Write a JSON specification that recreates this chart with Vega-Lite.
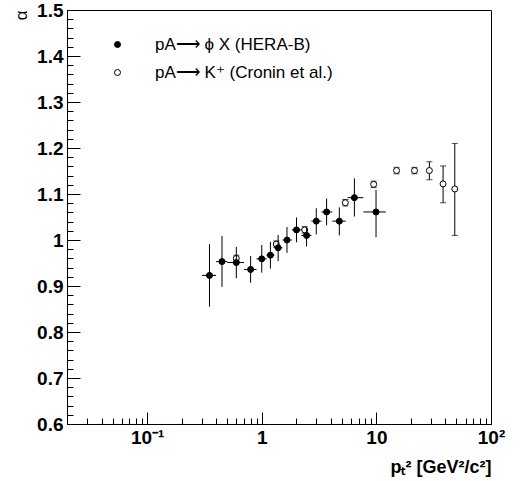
{
  "$schema": "https://vega.github.io/schema/vega-lite/v6.json",
  "autosize": {"type": "none"},
  "padding": {"left": 67, "top": 10, "right": 29, "bottom": 57},
  "width": 424,
  "height": 414,
  "background": "white",
  "config": {
    "font": "Liberation Sans",
    "view": {"stroke": "black", "strokeWidth": 1},
    "axis": {
      "domainColor": "black",
      "tickColor": "black",
      "tickWidth": 1,
      "labelColor": "black",
      "labelFont": "Liberation Sans",
      "labelFontWeight": "bold",
      "labelFontSize": 19,
      "labelOverlap": false,
      "labelFlush": false,
      "grid": false,
      "titleColor": "black",
      "titleFont": "Liberation Sans"
    }
  },
  "data": {
    "values": [
      {"series": "pA⟶ K⁺ (Cronin et al.)", "x": 0.60, "y": 0.960, "ylo": 0.953, "yhi": 0.967},
      {"series": "pA⟶ K⁺ (Cronin et al.)", "x": 1.34, "y": 0.991, "ylo": 0.984, "yhi": 0.998},
      {"series": "pA⟶ K⁺ (Cronin et al.)", "x": 2.37, "y": 1.022, "ylo": 1.015, "yhi": 1.029},
      {"series": "pA⟶ K⁺ (Cronin et al.)", "x": 5.36, "y": 1.081, "ylo": 1.074, "yhi": 1.088},
      {"series": "pA⟶ K⁺ (Cronin et al.)", "x": 9.47, "y": 1.121, "ylo": 1.114, "yhi": 1.128},
      {"series": "pA⟶ K⁺ (Cronin et al.)", "x": 15.0, "y": 1.151, "ylo": 1.144, "yhi": 1.158},
      {"series": "pA⟶ K⁺ (Cronin et al.)", "x": 21.5, "y": 1.151, "ylo": 1.144, "yhi": 1.158},
      {"series": "pA⟶ K⁺ (Cronin et al.)", "x": 29.0, "y": 1.151, "ylo": 1.131, "yhi": 1.170},
      {"series": "pA⟶ K⁺ (Cronin et al.)", "x": 38.2, "y": 1.122, "ylo": 1.081, "yhi": 1.161},
      {"series": "pA⟶ K⁺ (Cronin et al.)", "x": 48.3, "y": 1.111, "ylo": 1.010, "yhi": 1.210},
      {"series": "pA⟶ ϕ X (HERA-B)", "x": 0.35, "y": 0.923, "ylo": 0.855, "yhi": 0.991, "xlo": 0.30, "xhi": 0.40},
      {"series": "pA⟶ ϕ X (HERA-B)", "x": 0.45, "y": 0.953, "ylo": 0.898, "yhi": 1.009, "xlo": 0.40, "xhi": 0.50},
      {"series": "pA⟶ ϕ X (HERA-B)", "x": 0.60, "y": 0.951, "ylo": 0.917, "yhi": 0.985, "xlo": 0.50, "xhi": 0.70},
      {"series": "pA⟶ ϕ X (HERA-B)", "x": 0.80, "y": 0.936, "ylo": 0.907, "yhi": 0.965, "xlo": 0.70, "xhi": 0.90},
      {"series": "pA⟶ ϕ X (HERA-B)", "x": 1.00, "y": 0.959, "ylo": 0.929, "yhi": 0.989, "xlo": 0.90, "xhi": 1.10},
      {"series": "pA⟶ ϕ X (HERA-B)", "x": 1.19, "y": 0.967, "ylo": 0.938, "yhi": 0.996, "xlo": 1.10, "xhi": 1.29},
      {"series": "pA⟶ ϕ X (HERA-B)", "x": 1.39, "y": 0.983, "ylo": 0.954, "yhi": 1.011, "xlo": 1.29, "xhi": 1.52},
      {"series": "pA⟶ ϕ X (HERA-B)", "x": 1.66, "y": 1.000, "ylo": 0.972, "yhi": 1.028, "xlo": 1.52, "xhi": 1.83},
      {"series": "pA⟶ ϕ X (HERA-B)", "x": 2.01, "y": 1.022, "ylo": 0.995, "yhi": 1.049, "xlo": 1.83, "xhi": 2.22},
      {"series": "pA⟶ ϕ X (HERA-B)", "x": 2.46, "y": 1.010, "ylo": 0.986, "yhi": 1.028, "xlo": 2.22, "xhi": 2.71},
      {"series": "pA⟶ ϕ X (HERA-B)", "x": 2.99, "y": 1.041, "ylo": 1.012, "yhi": 1.069, "xlo": 2.71, "xhi": 3.32},
      {"series": "pA⟶ ϕ X (HERA-B)", "x": 3.68, "y": 1.061, "ylo": 1.032, "yhi": 1.090, "xlo": 3.32, "xhi": 4.13},
      {"series": "pA⟶ ϕ X (HERA-B)", "x": 4.75, "y": 1.041, "ylo": 1.010, "yhi": 1.071, "xlo": 4.13, "xhi": 5.40},
      {"series": "pA⟶ ϕ X (HERA-B)", "x": 6.43, "y": 1.092, "ylo": 1.051, "yhi": 1.134, "xlo": 5.60, "xhi": 7.70},
      {"series": "pA⟶ ϕ X (HERA-B)", "x": 9.93, "y": 1.061, "ylo": 1.006, "yhi": 1.109, "xlo": 7.70, "xhi": 12.1}
    ]
  },
  "encoding": {
    "x": {
      "field": "x",
      "type": "quantitative",
      "scale": {"type": "log", "domain": [0.02, 100], "nice": false},
      "axis": {
        "title": "pₜ² [GeV²/c²]",
        "titleFontSize": 18,
        "titleFontWeight": "bold",
        "titleAnchor": "end",
        "titleAlign": "right",
        "titleBaseline": "alphabetic",
        "titleX": 424,
        "titleY": 48,
        "values": [0.02, 0.03, 0.04, 0.05, 0.06, 0.07, 0.08, 0.09, 0.1, 0.2, 0.3, 0.4, 0.5, 0.6, 0.7, 0.8, 0.9, 1, 2, 3, 4, 5, 6, 7, 8, 9, 10, 20, 30, 40, 50, 60, 70, 80, 90, 100],
        "tickSize": {"expr": "abs(log(datum.value)/log(10) - round(log(datum.value)/log(10))) < 0.001 ? -12 : -6"},
        "labelPadding": 16,
        "labelExpr": "abs(datum.value - 0.1) < 1e-6 ? '10⁻¹' : abs(datum.value - 1) < 1e-6 ? '1' : abs(datum.value - 10) < 1e-6 ? '10' : abs(datum.value - 100) < 1e-6 ? '10²' : ''"
      }
    },
    "y": {
      "field": "y",
      "type": "quantitative",
      "scale": {"domain": [0.6, 1.5], "nice": false, "zero": false},
      "axis": {
        "title": "α",
        "titleFontSize": 17,
        "titleFontWeight": "normal",
        "titleAngle": -90,
        "titleAlign": "right",
        "titleBaseline": "bottom",
        "titleX": -37,
        "titleY": 0,
        "values": [0.6, 0.62, 0.64, 0.66, 0.68, 0.7, 0.72, 0.74, 0.76, 0.78, 0.8, 0.82, 0.84, 0.86, 0.88, 0.9, 0.92, 0.94, 0.96, 0.98, 1, 1.02, 1.04, 1.06, 1.08, 1.1, 1.12, 1.14, 1.16, 1.18, 1.2, 1.22, 1.24, 1.26, 1.28, 1.3, 1.32, 1.34, 1.36, 1.38, 1.4, 1.42, 1.44, 1.46, 1.48, 1.5],
        "tickSize": {"expr": "abs(datum.value*10 - round(datum.value*10)) < 0.001 ? -13 : -6"},
        "labelPadding": 17,
        "labelExpr": "abs(datum.value*10 - round(datum.value*10)) < 0.001 ? (abs(datum.value - 1) < 1e-6 ? '1' : format(datum.value, '.1f')) : ''"
      }
    }
  },
  "layer": [
    {
      "transform": [{"filter": "datum.series == 'pA⟶ K⁺ (Cronin et al.)'"}],
      "mark": {"type": "rule", "color": "black", "strokeWidth": 1},
      "encoding": {"y": {"field": "ylo", "type": "quantitative"}, "y2": {"field": "yhi"}}
    },
    {
      "transform": [{"filter": "datum.series == 'pA⟶ K⁺ (Cronin et al.)'"}],
      "mark": {"type": "tick", "orient": "horizontal", "color": "black", "size": 6, "thickness": 1},
      "encoding": {"y": {"field": "ylo", "type": "quantitative"}}
    },
    {
      "transform": [{"filter": "datum.series == 'pA⟶ K⁺ (Cronin et al.)'"}],
      "mark": {"type": "tick", "orient": "horizontal", "color": "black", "size": 6, "thickness": 1},
      "encoding": {"y": {"field": "yhi", "type": "quantitative"}}
    },
    {
      "transform": [{"filter": "datum.series == 'pA⟶ K⁺ (Cronin et al.)'"}],
      "mark": {"type": "point", "shape": "circle", "filled": true, "stroke": "black", "strokeWidth": 1, "size": 36, "opacity": 1},
      "encoding": {
        "fill": {
          "field": "series",
          "type": "nominal",
          "scale": {"domain": ["pA⟶ ϕ X (HERA-B)", "pA⟶ K⁺ (Cronin et al.)"], "range": ["black", "white"]},
          "legend": {
            "orient": "none",
            "title": null,
            "legendX": 42,
            "legendY": 26,
            "labelFont": "Liberation Sans",
            "labelFontSize": 17,
            "labelColor": "black",
            "labelLimit": 0,
            "labelOffset": 29,
            "rowPadding": 10,
            "symbolType": "circle",
            "symbolSize": 36,
            "symbolStrokeColor": "black",
            "symbolStrokeWidth": 1
          }
        }
      }
    },
    {
      "transform": [{"filter": "datum.series == 'pA⟶ ϕ X (HERA-B)'"}],
      "mark": {"type": "rule", "color": "black", "strokeWidth": 1},
      "encoding": {"y": {"field": "ylo", "type": "quantitative"}, "y2": {"field": "yhi"}}
    },
    {
      "transform": [{"filter": "datum.series == 'pA⟶ ϕ X (HERA-B)'"}],
      "mark": {"type": "rule", "color": "black", "strokeWidth": 1},
      "encoding": {"x": {"field": "xlo", "type": "quantitative"}, "x2": {"field": "xhi"}}
    },
    {
      "transform": [{"filter": "datum.series == 'pA⟶ ϕ X (HERA-B)'"}],
      "mark": {"type": "point", "shape": "circle", "filled": true, "stroke": "black", "strokeWidth": 1, "size": 36, "opacity": 1},
      "encoding": {"fill": {"field": "series", "type": "nominal"}}
    }
  ]
}
